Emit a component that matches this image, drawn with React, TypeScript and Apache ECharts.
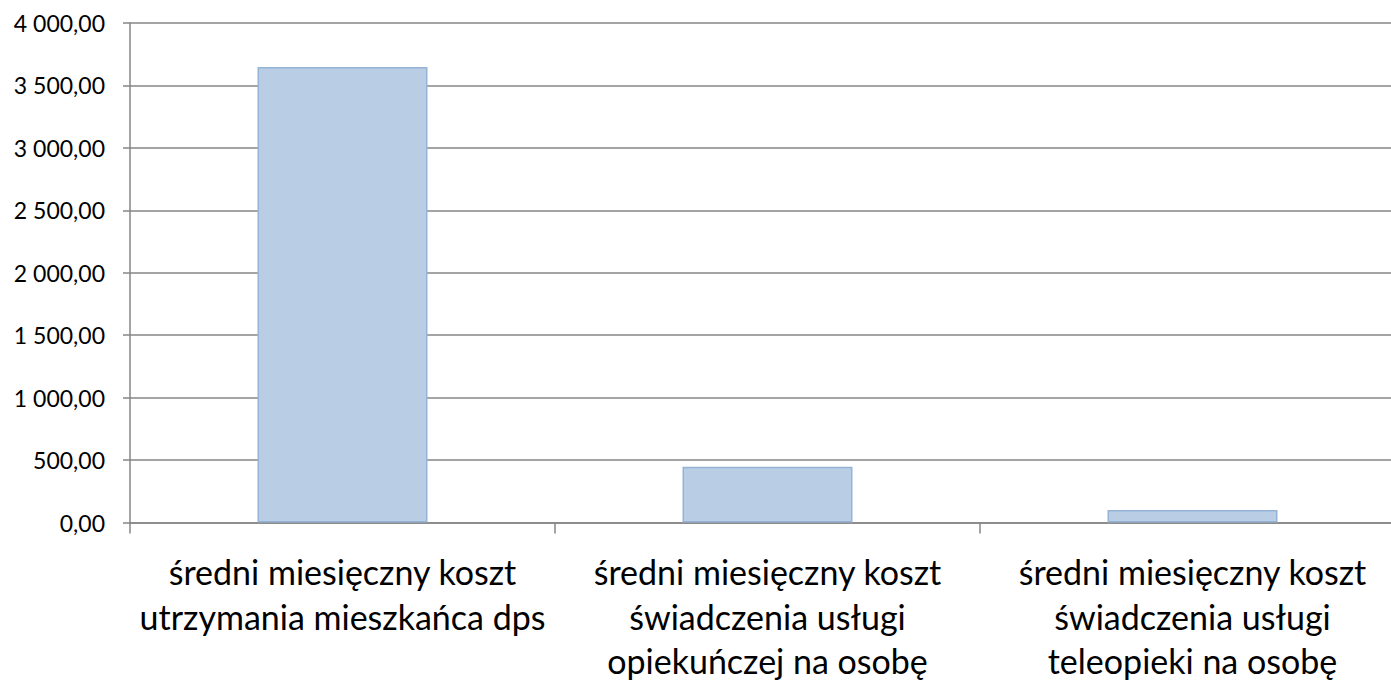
import React, { useEffect, useRef } from "react";
import * as echarts from "echarts";

const categories = [
  "średni miesięczny koszt\nutrzymania mieszkańca dps",
  "średni miesięczny koszt\nświadczenia usługi\nopiekuńczej na osobę",
  "średni miesięczny koszt\nświadczenia usługi\nteleopieki na osobę",
];
const values = [3648, 447, 100];
const yMin = 0;
const yMax = 4000;
const yInterval = 500;

function fmt(v: number): string {
  const fixed = v.toFixed(2);
  const [intPart, dec] = fixed.split(".");
  const withSpaces = intPart.replace(/\B(?=(\d{3})+(?!\d))/g, " ");
  return withSpaces + "," + dec;
}

export default function App() {
  const ref = useRef<HTMLDivElement>(null);
  useEffect(() => {
    document.body.style.margin = "0";
    document.body.style.overflow = "hidden";
    const chart = echarts.init(ref.current!, null, { renderer: "svg" });
    chart.setOption({
      animation: false,
      backgroundColor: "#ffffff",
      grid: { left: 130, top: 23, right: 0, bottom: 158, containLabel: false },
      xAxis: {
        type: "category",
        data: categories,
        axisLine: { show: true, lineStyle: { color: "#868686", width: 1.5 } },
        axisTick: { show: true, length: 11, alignWithLabel: false, lineStyle: { color: "#868686", width: 1.5 } },
        axisLabel: {
          color: "#000000",
          fontFamily: "Lato",
          fontSize: 34,
          lineHeight: 44.5,
          margin: 27,
          interval: 0,
        },
      },
      yAxis: {
        type: "value",
        min: yMin,
        max: yMax,
        interval: yInterval,
        axisLine: { show: true, lineStyle: { color: "#868686", width: 1.5 } },
        axisTick: { show: true, length: 7, lineStyle: { color: "#868686", width: 1.5 } },
        splitLine: { show: true, lineStyle: { color: "#868686", width: 1.5 } },
        axisLabel: {
          color: "#000000",
          fontFamily: "Lato",
          fontSize: 23,
          margin: 25,
          formatter: (v: number) => fmt(v),
        },
      },
      series: [
        {
          type: "bar",
          data: values,
          barWidth: "40%",
          itemStyle: { color: "#B9CDE5", borderColor: "#95B3D7", borderWidth: 1.5 },
        },
      ],
    });
    return () => chart.dispose();
  }, []);
  return (
    <div style={{ position: "absolute", left: 0, top: 0, width: 1391, height: 683, overflow: "hidden" }}>
      <div ref={ref} style={{ width: 1405, height: 683 }} />
    </div>
  );
}
